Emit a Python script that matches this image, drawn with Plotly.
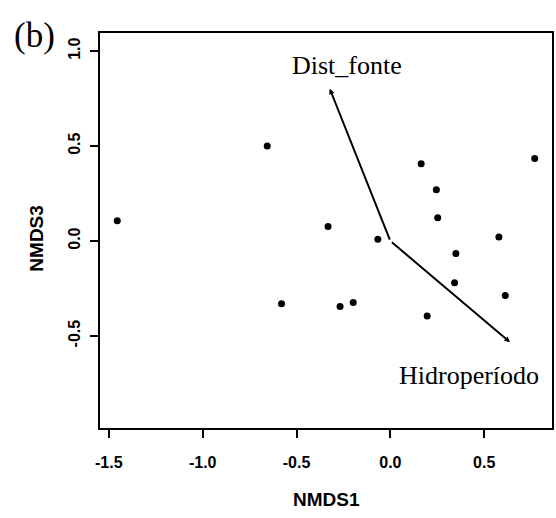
import plotly.graph_objects as go

# NMDS site scores (axis 1 vs axis 3)
site_nmds1 = [-1.455, -0.656, -0.580, -0.332, -0.268, -0.198, -0.067, 0.164,
              0.196, 0.245, 0.252, 0.342, 0.349, 0.578, 0.612, 0.769]
site_nmds3 = [0.107, 0.500, -0.330, 0.077, -0.344, -0.324, 0.009, 0.407,
              -0.395, 0.270, 0.123, -0.219, -0.066, 0.021, -0.286, 0.434]

# Fitted environmental vectors
env_names = ["Dist_fonte", "Hidroperíodo"]
env_nmds1 = [-0.323, 0.637]
env_nmds3 = [0.802, -0.532]

x_ticks = [-1.5, -1.0, -0.5, 0.0, 0.5]
y_ticks = [-0.5, 0.0, 0.5, 1.0]

sans = "Liberation Sans, Arial, sans-serif"
serif = "Liberation Serif, Times New Roman, serif"

fig = go.Figure()
fig.add_trace(go.Scatter(
    x=site_nmds1, y=site_nmds3, mode="markers",
    marker=dict(color="black", size=7),
    hoverinfo="x+y", showlegend=False,
))

annotations = []
label_shift = {"Dist_fonte": (17, 23), "Hidroperíodo": (-41, -33)}
for name, vx, vy in zip(env_names, env_nmds1, env_nmds3):
    annotations.append(dict(
        x=vx, y=vy, ax=0, ay=0, xref="x", yref="y", axref="x", ayref="y",
        text="", showarrow=True, arrowhead=2, arrowsize=0.55, arrowwidth=2,
        arrowcolor="black", standoff=0, startstandoff=0,
    ))
    dx, dy = label_shift[name]
    annotations.append(dict(
        x=vx, y=vy, xref="x", yref="y", text=name, showarrow=False,
        xanchor="center", yanchor="middle",
        xshift=dx, yshift=dy, font=dict(family=serif, size=26, color="black"),
    ))

annotations += [
    dict(x=0.5, y=-0.18, xref="paper", yref="paper", text="<b>NMDS1</b>",
         xanchor="center", yanchor="middle",
         showarrow=False, font=dict(family=sans, size=19, color="black")),
    dict(x=-0.141, y=0.48, xref="paper", yref="paper", text="<b>NMDS3</b>",
         xanchor="center", yanchor="middle",
         showarrow=False, textangle=-90,
         font=dict(family=sans, size=19, color="black")),
    dict(x=-0.145, y=0.993, xref="paper", yref="paper", text="(b)",
         xanchor="center", yanchor="middle",
         showarrow=False, font=dict(family=serif, size=35, color="black")),
]

axis_common = dict(
    showgrid=False, zeroline=False, showline=True, linecolor="black",
    linewidth=2, mirror=True, ticks="outside", ticklen=8, tickwidth=2,
    tickcolor="black",
    tickfont=dict(family=sans, size=16, color="black", weight="bold"),
)

fig.update_layout(
    width=556, height=518,
    margin=dict(l=100, r=2, t=33, b=90),
    paper_bgcolor="white", plot_bgcolor="white",
    xaxis=dict(range=[-1.547, 0.861], tickvals=x_ticks,
               ticktext=[f"{v:.1f}" for v in x_ticks],
               ticklabelstandoff=11, **axis_common),
    yaxis=dict(range=[-0.984, 1.095], tickvals=y_ticks,
               ticktext=[f"{v:.1f}" for v in y_ticks], tickangle=-90,
               ticklabelstandoff=4, **axis_common),
    annotations=annotations,
)

fig.write_html("out.html")
